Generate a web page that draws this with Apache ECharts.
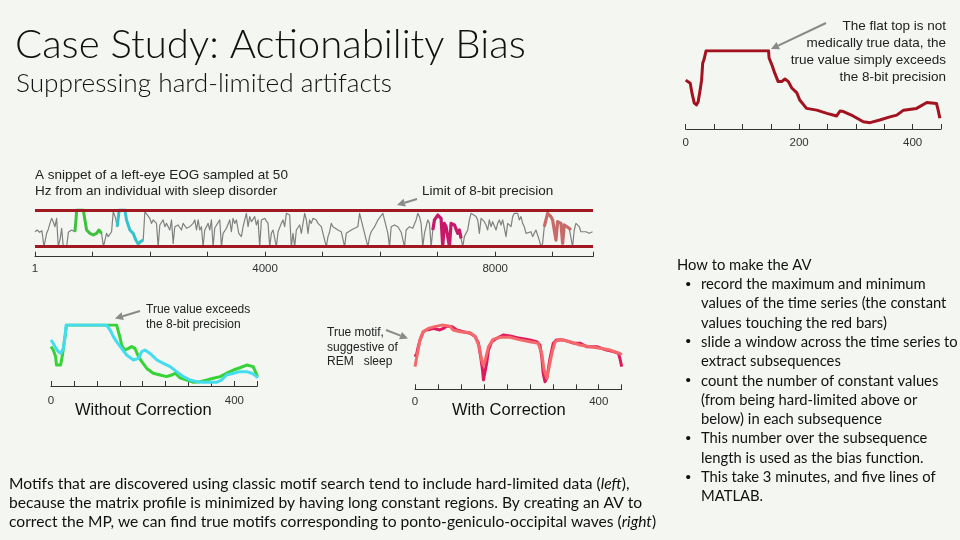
<!DOCTYPE html>
<html><head><meta charset="utf-8">
<script src="https://cdn.jsdelivr.net/npm/echarts@6/dist/echarts.min.js"></script>
<style>html,body{margin:0;padding:0;background:#f3f6f1;}#c{width:960px;height:540px;}</style>
</head><body><div id="c"></div><script>
// ---------- DATA ----------
// Top-right: hard-limited motif (sample index, 8-bit value)
const limitedMotif = [[0,154],[8,143],[11,110],[15,76],[19,69],[22,80],[26,127],[28,154],[30,213],[32,223],[36,255],[146,255],[147,230],[152,206],[157,178],[163,149],[169,149],[175,158],[181,149],[187,127],[196,110],[201,86],[213,57],[231,51],[249,40],[266,31],[272,48],[278,46],[295,31],[313,11],[325,8],[342,17],[360,28],[372,34],[384,51],[407,57],[425,77],[442,74],[445,51],[448,23]];
const limitedTicks = [0, 200, 400];

// EOG snippet (sample index, 8-bit value)
const eogSignal = [[0,104],[40,116],[80,100],[120,111],[145,104],[156,0],[202,93],[230,120],[260,162],[289,197],[320,170],[347,139],[364,151],[376,197],[405,0],[440,60],[463,128],[492,0],[550,0],[580,100],[636,116],[694,104],
[715,200],[723,255],[839,255],[868,186],[897,116],[955,93],[1013,81],[1070,93],[1110,116],[1128,111],[1157,93],
[1190,0],[1215,0],[1244,93],[1273,70],[1331,104],[1360,244],[1400,200],[1429,139],
[1464,255],[1562,255],[1591,186],[1620,151],[1649,116],[1707,93],[1753,46],[1794,19],[1834,35],[1881,46],
[1910,244],[1939,237],[1996,197],[2025,162],[2054,186],[2112,162],[2141,0],[2170,151],[2228,186],[2257,139],[2286,162],[2344,116],[2373,186],[2402,23],[2430,139],[2488,151],[2546,116],[2575,162],[2633,128],[2691,139],[2749,162],[2778,186],[2807,116],[2836,186],[2865,116],[2893,139],[2922,0],[2951,116],[3009,162],[3038,116],[3067,186],[3096,0],[3125,130],
[3212,186],[3241,0],[3270,93],[3328,128],[3385,186],[3414,104],[3443,197],[3472,162],[3501,186],[3542,93],[3588,70],[3617,139],[3646,186],[3675,232],[3704,139],[3733,209],[3762,174],[3791,186],[3819,209],[3848,151],[3877,186],[3906,0],[3935,186],[3993,197],[4051,162],[4080,0],[4109,93],[4138,116],[4196,0],[4225,104],[4282,162],[4311,186],[4340,139],[4369,232],[4427,220],[4456,0],[4485,93],[4514,0],[4543,116],[4601,151],[4630,93],[4659,162],[4688,232],[4717,186],[4745,93],[4774,186],[4803,162],[4832,197],[4861,209],[4890,186],[4919,162],[4977,139],[5006,93],[5035,46],[5064,0],[5093,70],[5122,104],[5150,162],[5179,139],[5208,128],[5266,116],[5324,104],[5353,104],[5382,0],[5411,93],[5440,104],[5498,116],[5556,128],[5613,139],[5642,232],[5671,220],[5700,139],[5729,93],[5787,0],[5816,70],[5845,104],[5903,139],[5961,186],[5990,186],[6047,232],[6076,232],[6105,139],[6134,93],[6163,0],[6192,139],[6250,151],[6308,139],[6366,100],[6395,104],[6423,0],
[6452,116],[6510,139],[6567,128],[6625,186],[6654,232],[6683,209],[6712,162],[6741,0],[6770,93],[6828,186],[6857,162],[6886,0],[6915,116],
[6944,186],[7002,220],[7059,197],[7088,0],[7117,162],[7146,139],[7204,0],[7233,162],[7291,151],[7349,93],[7378,116],[7407,58],
[7436,0],[7464,70],[7522,116],[7551,186],[7580,232],[7609,220],[7667,209],[7696,186],[7725,93],[7754,197],[7812,174],[7840,151],[7869,116],[7898,186],[7927,139],[7956,174],[8014,116],[8043,162],[8072,186],[8101,151],[8130,186],[8188,70],[8217,162],[8275,139],[8304,209],[8333,232],[8361,220],[8390,232],[8419,186],[8448,209],[8477,162],[8506,139],[8535,93],[8564,104],[8622,104],[8651,70],[8679,93],[8708,116],[8737,104],[8766,46],[8795,0],[8824,23],[8853,139],
[8911,232],[8940,244],[8969,209],[8998,186],[9027,197],[9056,46],[9085,174],[9114,186],[9143,162],[9172,23],[9201,151],[9230,139],[9287,128],[9316,116],
[9345,0],[9374,116],[9403,162],[9461,139],[9490,104],[9519,93],[9577,104],[9635,93],[9692,104]];
const eogGreen = [[694,104],[715,200],[723,255],[839,255],[868,186],[897,116],[955,93],[1013,81],[1070,93],[1110,116],[1128,111],[1157,93]];
const eogCyan = [[1429,139],[1464,255],[1562,255],[1591,186],[1620,151],[1649,116],[1707,93],[1753,46],[1794,19],[1834,35],[1881,46]];
const eogMagenta = [[6915,116],[6944,186],[7002,220],[7059,197],[7088,0],[7117,162],[7146,139],[7204,0],[7233,162],[7291,151],[7349,93],[7378,116],[7407,58]];
const eogSalmon = [[8853,139],[8911,232],[8940,244],[8969,209],[8998,186],[9027,197],[9056,46],[9085,174],[9114,186],[9143,162],[9172,23],[9201,151],[9230,139],[9287,128],[9316,116]];
const eogLimits = [0, 255];
const eogTicks = {0:'1', 4000:'4000', 8000:'8000'};

// Without correction motif pair
const withoutGreen = [[0,160],[5,145],[10,116],[12,79],[16,72],[21,79],[25,123],[28,167],[31,211],[34,255],[143,255],[147,226],[151,196],[154,167],[161,145],[169,152],[176,160],[183,152],[191,116],[198,94],[209,64],[223,43],[238,35],[252,28],[263,35],[271,43],[281,23],[296,13],[311,3],[325,6],[340,13],[354,21],[369,28],[383,43],[398,57],[412,67],[427,79],[441,72],[449,35],[450,28]];
const withoutCyan = [[0,189],[5,174],[11,152],[16,138],[21,130],[27,152],[31,211],[33,255],[121,255],[129,233],[136,204],[143,182],[154,152],[165,123],[180,101],[191,108],[198,138],[205,145],[216,130],[231,101],[245,86],[260,72],[274,50],[289,28],[303,13],[318,6],[332,3],[347,3],[361,3],[372,13],[383,35],[398,43],[412,50],[427,50],[438,43],[449,28],[450,21]];
// With correction motif pair
const withMagenta = [[0,111],[4,124],[7,150],[11,177],[18,209],[25,216],[40,222],[54,216],[62,222],[69,231],[80,229],[91,216],[105,209],[120,203],[131,190],[138,164],[143,111],[147,59],[149,20],[152,20],[156,85],[160,137],[167,170],[178,183],[192,196],[207,192],[229,183],[250,177],[265,170],[272,157],[276,111],[279,46],[283,13],[287,26],[294,105],[301,164],[308,177],[323,177],[345,164],[359,164],[374,150],[396,150],[417,137],[432,131],[443,124],[446,105],[450,72]];
const withSalmon = [[0,72],[4,111],[11,177],[18,209],[29,222],[43,229],[58,235],[76,231],[83,216],[98,209],[120,205],[131,190],[140,150],[145,98],[149,78],[152,92],[160,150],[170,179],[185,187],[207,187],[229,177],[250,170],[268,164],[276,124],[281,59],[287,26],[290,33],[298,124],[305,170],[316,179],[337,170],[359,157],[381,150],[403,144],[425,137],[446,124],[450,118]];
const motifTicks = [0, 400];

// Text
const titleText = 'Case Study: Actionability Bias';
const subtitleText = 'Suppressing hard-limited artifacts';
const flatTopNote = ['The flat top is not','medically true data, the','true value simply exceeds','the 8-bit precision'];
const snippetNote = ['A snippet of a left-eye EOG sampled at 50','Hz from an individual with sleep disorder'];
const limitNote = 'Limit of 8-bit precision';
const exceedNote = ['True value exceeds','the 8-bit precision'];
const motifNote = ['True motif,','suggestive of','REM   sleep'];
const howTo = [
 ['', 'How to make the AV'],
 ['•', 'record the maximum and minimum'],
 ['', 'values of the time series (the constant'],
 ['', 'values touching the red bars)'],
 ['•', 'slide a window across the time series to'],
 ['', 'extract subsequences'],
 ['•', 'count the number of constant values'],
 ['', '(from being hard-limited above or'],
 ['', 'below) in each subsequence'],
 ['•', 'This number over the subsequence'],
 ['', 'length is used as the bias function.'],
 ['•', 'This take 3 minutes, and five lines of'],
 ['', 'MATLAB.']
];
const paragraph = [
 'Motifs that are discovered using classic motif search tend to include hard-limited data ({i|left}),',
 'because the matrix profile is minimized by having long constant regions. By creating an AV to',
 'correct the MP, we can find true motifs corresponding to ponto-geniculo-occipital waves ({i|right})'
];

// ---------- HELPERS ----------
const cv = document.createElement('canvas').getContext('2d');
function fit(text, family, weight, width, style) {
  cv.font = (style||'') + ' ' + weight + ' 100px ' + family;
  return 100 * width / cv.measureText(text.replace(/\{i\|([^}]*)\}/g,'$1')).width;
}
const SANS = '"Liberation Sans", Arial, sans-serif';
const BODY = 'Lato, "Open Sans", sans-serif';

function axisX(grid, max, interval, fmt, offset, margin) {
  return {
    gridIndex: grid, type: 'value', min: 0, max: max, interval: interval, offset: offset,
    axisLine: {show: true, onZero: false, lineStyle: {color: '#333', width: 1}},
    axisTick: {show: true, inside: true, length: 5, lineStyle: {color: '#333', width: 1}},
    splitLine: {show: false},
    axisLabel: {color: '#333', fontSize: 11.5, fontFamily: SANS, margin: margin, formatter: fmt, showMinLabel: true, showMaxLabel: true}
  };
}
function axisY(grid, min, max) { return {gridIndex: grid, type: 'value', min: min, max: max, show: false}; }
function ln(data, idx, color, width, z, extra) {
  return Object.assign({type: 'line', xAxisIndex: idx, yAxisIndex: idx, data: data, symbol: 'none', showSymbol: false,
    lineStyle: {color: color, width: width, join: 'round'}, z: z, silent: true, animation: false}, extra || {});
}
function txt(x, y, text, size, family, color, align, extra) {
  return Object.assign({type: 'text', x: x, y: y, silent: true,
    style: Object.assign({text: text, fill: color, fontSize: size, fontFamily: family, align: align || 'left', verticalAlign: 'middle'}, extra || {})});
}
function arrow(x1, y1, x2, y2, color) {
  const a = Math.atan2(y2 - y1, x2 - x1), L = 8, Wd = 4;
  const bx = x2 - L * Math.cos(a), by = y2 - L * Math.sin(a);
  const px = -Math.sin(a) * Wd, py = Math.cos(a) * Wd;
  return [
    {type: 'line', silent: true, shape: {x1: x1, y1: y1, x2: bx, y2: by}, style: {stroke: color, lineWidth: 2}},
    {type: 'polygon', silent: true, shape: {points: [[x2, y2], [bx + px, by + py], [bx - px, by - py]]}, style: {fill: color}}
  ];
}

// ---------- GRAPHICS ----------
const g = [];
const titleSize = fit(titleText, BODY, 300, 511);
g.push(txt(15, 45, titleText, titleSize, BODY, '#111', 'left', {fontWeight: 300}));
const subSize = fit(subtitleText, BODY, 300, 376);
g.push(txt(16, 84, subtitleText, subSize, BODY, '#111', 'left', {fontWeight: 300}));

flatTopNote.forEach((t, i) => g.push(txt(946, 26 + i * 17, t, 13.5, SANS, '#222', 'right')));
g.push(...arrow(826, 23, 771, 49, '#8a8a8a'));

snippetNote.forEach((t, i) => g.push(txt(35, 175 + i * 16.5, t, 13.5, SANS, '#222')));
g.push(txt(422, 191.5, limitNote, 13.5, SANS, '#222'));
g.push(...arrow(417, 199, 397, 205, '#8a8a8a'));

exceedNote.forEach((t, i) => g.push(txt(146, 310 + i * 14.3, t, 12, SANS, '#222')));
g.push(...arrow(140, 311, 115, 318.5, '#8a8a8a'));
g.push(txt(75, 410.5, 'Without Correction', 16.5, SANS, '#111'));

motifNote.forEach((t, i) => g.push(txt(327, 333 + i * 14.5, t, 12, SANS, '#222')));
g.push(...arrow(386, 330, 408, 338.5, '#8a8a8a'));
g.push(txt(452, 410.5, 'With Correction', 16.5, SANS, '#111'));

const howSize = fit(howTo[4][1], BODY, 400, 257);
howTo.forEach((r, i) => {
  const y = 265 + i * 19.3;
  if (r[0]) g.push(txt(685.5, y, r[0], howSize * 1.05, SANS, '#111'));
  g.push(txt(i > 0 ? 701 : 677, y, r[1], howSize, BODY, '#111'));
});
const paraSize = fit(paragraph[0], BODY, 400, 622);
paragraph.forEach((t, i) => g.push(txt(9, 484 + i * 18.8, t, paraSize, BODY, '#111', 'left',
  {rich: {i: {fontStyle: 'italic', fontSize: paraSize, fontFamily: BODY, fill: '#111'}}})));

// ---------- CHART ----------
const chart = echarts.init(document.getElementById('c'), null, {renderer: 'canvas'});
chart.setOption({
  backgroundColor: '#f3f6f1',
  animation: false,
  grid: [
    {left: 685.7, top: 50.7, width: 255.3, height: 74.3},
    {left: 35, top: 210, width: 558, height: 36.7},
    {left: 51, top: 325, width: 206.3, height: 58},
    {left: 415, top: 320, width: 206.7, height: 65}
  ],
  xAxis: [
    axisX(0, 450, 50, v => limitedTicks.includes(v) ? String(v) : '', 4, 8),
    axisX(1, 9700, 1000, v => eogTicks[v] || '', 10, 6),
    axisX(2, 450, 50, v => motifTicks.includes(v) ? String(v) : '', 3, 9),
    axisX(3, 450, 50, v => motifTicks.includes(v) ? String(v) : '', 4.3, 7)
  ],
  yAxis: [axisY(0, 0, 255), axisY(1, 0, 255), axisY(2, 0, 255), axisY(3, 0, 255)],
  series: [
    ln(limitedMotif, 0, '#a3121f', 3, 2),
    ln(eogSignal, 1, '#808080', 1.2, 2, {
      markLine: {silent: true, symbol: 'none', animation: false, label: {show: false},
        lineStyle: {color: '#a01820', width: 3, type: 'solid'},
        data: eogLimits.map(v => ({yAxis: v}))}
    }),
    ln(eogGreen, 1, '#3cc23c', 3, 3),
    ln(eogCyan, 1, '#33c2cc', 3, 3),
    ln(eogMagenta, 1, '#c8186a', 3.2, 3),
    ln(eogSalmon, 1, '#c86a6a', 3.2, 3),
    ln(withoutGreen, 2, '#36d236', 3, 2),
    ln(withoutCyan, 2, '#45dcef', 3, 3),
    ln(withMagenta, 3, '#e0185e', 3, 2),
    ln(withSalmon, 3, '#f46a6a', 3, 3)
  ],
  graphic: g
});
</script></body></html>
